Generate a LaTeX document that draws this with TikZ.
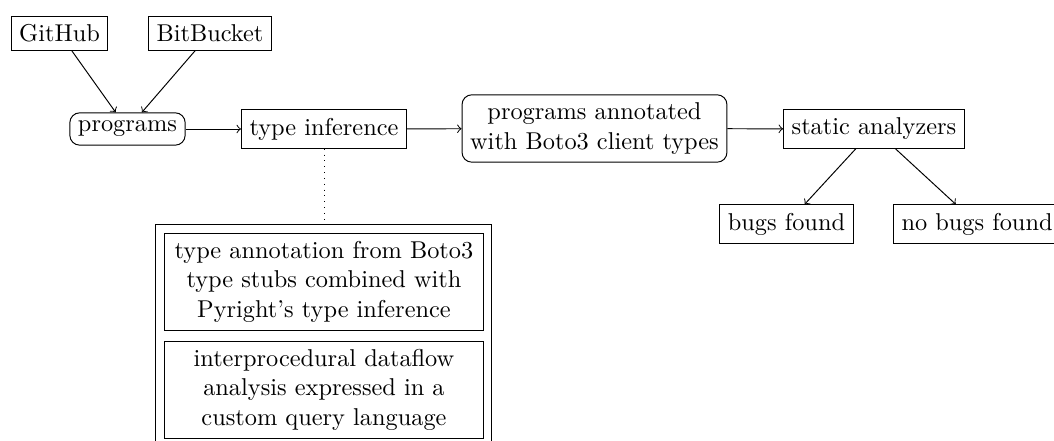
\documentclass[tikz,border=0pt]{standalone}
\begin{document}
\begin{tikzpicture}[x=0.4107pt,y=-0.4107pt,
  box/.style={draw,rectangle,inner sep=0.3333em},
  rbox/.style={draw,rectangle,rounded corners,inner sep=0.3333em},
  conn/.style={->}]
\useasboundingbox (0,0) rectangle (1054,441);
\node[box] (github) at (59.5,33.5) {GitHub};
\node[box] (bitbucket) at (210,33.5) {BitBucket};
\node[rbox] (programs) at (127.5,129) {programs};
\node[box] (ti) at (324,129) {type inference};
\node[rbox,align=center] (annot) at (594.5,128.5) {programs annotated\\with Boto3 client types};
\node[box] (sa) at (874,129) {static analyzers};
\node[box] (bugs) at (786.5,224) {bugs found};
\node[box,anchor=west] (nobugs) at (893,224) {no bugs found};
\node[draw,anchor=north west,minimum width=138pt,minimum height=130pt,inner sep=0pt] (outer) at (155,224) {};
\node[box,anchor=north west,minimum width=131pt,align=center] (s1) at (164,233) {type annotation from Boto3\\type stubs combined with\\Pyright's type inference};
\node[box,anchor=north west,minimum width=131pt,align=center] (s2) at (164,341) {interprocedural dataflow\\analysis expressed in a\\custom query language};
\draw[conn] (github) -- (programs);
\draw[conn] (bitbucket) -- (programs);
\draw[conn] (programs) -- (ti);
\draw[conn] (ti) -- (annot);
\draw[conn] (annot) -- (sa);
\draw[conn] (sa) -- (bugs);
\draw[conn] (sa) -- (nobugs);
\draw[dotted] (ti.south) -- (ti.south |- outer.north);
\end{tikzpicture}
\end{document}
